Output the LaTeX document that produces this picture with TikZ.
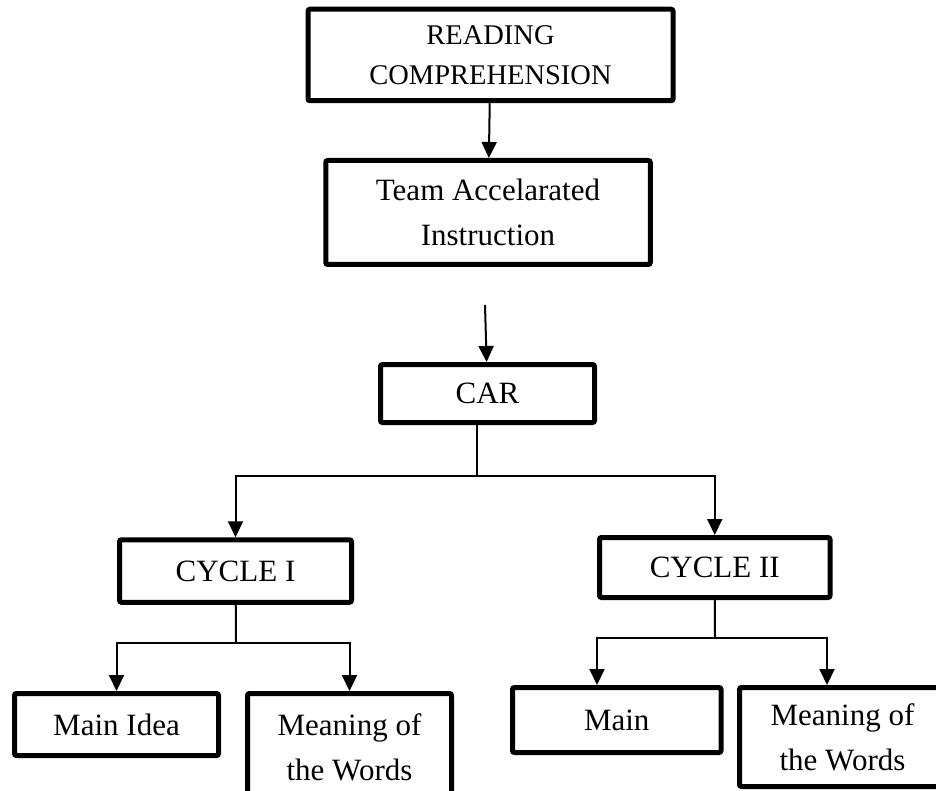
\documentclass[tikz,border=0pt]{standalone}
\usepackage{fontspec}
\setmainfont{Liberation Serif}
\usetikzlibrary{arrows.meta}
\tikzstyle{block} = [rectangle, rounded corners=2pt, line width=5pt, text centered, align=center, draw=black, font=\fontsize{31}{45}\selectfont]
\tikzstyle{arrow} = [line width=2pt,->,>={Triangle[length=16pt,width=15pt]}]
\tikzstyle{line} = [line width=2pt,-]

\begin{document}
\begin{tikzpicture}[x=1pt, y=-1pt, node distance=150pt]
    \path[use as bounding box] (0,0) rectangle (936,791);
    \clip (0,0) rectangle (936,791);

    \node (read) [block, minimum width=365pt, minimum height=91.5pt, font=\fontsize{28.5}{40}\selectfont] at (490.5,55)
    {READING\\COMPREHENSION};
    \node (team) [block, minimum width=324.5pt, minimum height=104pt, below of=read, xshift=-2.5pt, yshift=-7.5pt]
    {Team Accelarated\\Instruction};
    \node (car) [block, minimum width=214pt, minimum height=58pt, below of=team, xshift=-0.5pt, yshift=-31pt]
    {CAR};
    \coordinate [above of=car, xshift=-2.5pt, yshift=-61.5pt] (carin);
    \coordinate [below of=car, xshift=-10.5pt, yshift=67.5pt] (carsplit);
    \node (cyc1) [block, minimum width=232pt, minimum height=62.5pt, below of=car, xshift=-252pt, yshift=-27.5pt]
    {CYCLE I};
    \node (cyc2) [block, minimum width=230.5pt, minimum height=60pt, below of=car, xshift=227.25pt, yshift=-24pt]
    {CYCLE II};
    \coordinate [below of=cyc1, xshift=0.5pt, yshift=78pt] (split1);
    \coordinate [below of=cyc2, xshift=0.25pt, yshift=80pt] (split2);
    \node (idea1) [block, minimum width=204pt, minimum height=62pt, below of=cyc1, xshift=-119pt, yshift=-3.5pt]
    {Main Idea};
    \node (mean1) [block, minimum width=204pt, minimum height=108pt, below of=cyc1, xshift=114pt, yshift=-26.5pt]
    {Meaning of\\the Words};
    \node (idea2) [block, minimum width=208.5pt, minimum height=65pt, below of=cyc2, xshift=-98pt, yshift=-2.5pt]
    {Main};
    \node (mean2) [block, minimum width=206pt, minimum height=99pt, below of=cyc2, xshift=127.75pt, yshift=-19.5pt]
    {Meaning of\\the Words};

    \draw [arrow] (read) -- (team);
    \draw [arrow] (carin) -- (car);
    \draw [line] (car.south -| carsplit) -- (carsplit);
    \draw [arrow] (carsplit) -| (cyc1);
    \draw [arrow] (carsplit) -| (cyc2);
    \draw [line] (cyc1) -- (split1);
    \draw [arrow] (split1) -| (idea1);
    \draw [arrow] (split1) -| (mean1);
    \draw [line] (cyc2) -- (split2);
    \draw [arrow] (split2) -| ([xshift=-19.75pt]idea2.north);
    \draw [arrow] (split2) -| ([xshift=-15.5pt]mean2.north);
\end{tikzpicture}
\end{document}
